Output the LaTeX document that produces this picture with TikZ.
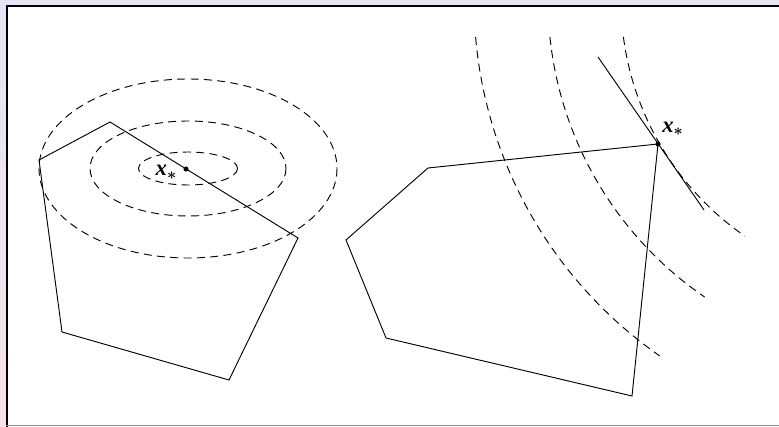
\documentclass[tikz,border=0pt]{standalone}
\usepackage{amsmath,amssymb}
\usepackage{fontspec}
\usepackage{tikz}
\usetikzlibrary{positioning,calc}
\newfontfamily\lblfont{Liberation Serif}
\definecolor{flav}{RGB}{230,228,246}
\definecolor{fpink}{RGB}{247,226,236}
\definecolor{fgray}{RGB}{140,140,140}
\newcommand{\xopt}{{\lblfont\bfseries\itshape x}$_{\boldsymbol{*}}$}
\tikzset{
  poly/.style  ={draw=black, line width=0.7pt, line join=miter},
  level/.style ={draw=black, line width=0.7pt, dash pattern=on 6pt off 4pt},
  optpt/.style ={circle, fill=black, inner sep=0pt, minimum size=3.8pt},
  lbl/.style   ={font=\fontsize{17}{19}\selectfont, inner sep=1pt}
}
\begin{document}
\begin{tikzpicture}[x=0.75pt, y=-0.75pt]
\useasboundingbox (0,0) rectangle (779,427);
% frame
\fill[flav] (0,0) rectangle (779,5);
\shade[top color=flav, bottom color=fpink] (0,0) rectangle (6,427);
\fill[white] (6,5) rectangle (779,425);
\draw[black, line width=1.4pt] (6.9,427) -- (6.9,5.9) -- (779,5.9);
\draw[fgray, line width=1pt] (6,425.6) -- (779,425.6);

% left: interior optimum
\coordinate (lc) at (188,168.5);
\draw[level] (lc) ellipse [x radius=49.5, y radius=16.5];
\draw[level] (lc) ellipse [x radius=98, y radius=47.5];
\draw[level] (lc) ellipse [x radius=149, y radius=89.5];

\coordinate (a1) at (39,160);
\coordinate (a2) at (110,122);
\coordinate (a3) at (298,238);
\coordinate (a4) at (229,380);
\coordinate (a5) at (62,332);
\draw[poly] (a1) -- (a2) -- (a3) -- (a4) -- (a5) -- cycle;

\node[optpt] (xl) at (186,169) {};
\node[lbl, left=3.5pt of xl, yshift=-2.6pt] (lxl) {\xopt};

% right: optimum at a vertex
\coordinate (rc) at (908,0);
\draw[level] ($(rc)+(172.6:287)$) arc[start angle=172.6, end angle=124.6, radius=287];
\draw[level] ($(rc)+(174.1:360)$) arc[start angle=174.1, end angle=124.4, radius=360];
\draw[level] ($(rc)+(175.1:434)$) arc[start angle=175.1, end angle=124.9, radius=434];

\coordinate (b1) at (346,240);
\coordinate (b2) at (428,168);
\coordinate (b3) at (658,144);
\coordinate (b4) at (632,396);
\coordinate (b5) at (386,338);
\draw[poly] (b1) -- (b2) -- (b3) -- (b4) -- (b5) -- cycle;

\coordinate (ta) at (598,57);
\coordinate (tb) at (704,210);
\draw[poly] (ta) -- (tb);

\node[optpt] (xr) at (b3) {};
\node[lbl, above right=3.5pt and 0.5pt of xr] (lxr) {\xopt};
\end{tikzpicture}
\end{document}
